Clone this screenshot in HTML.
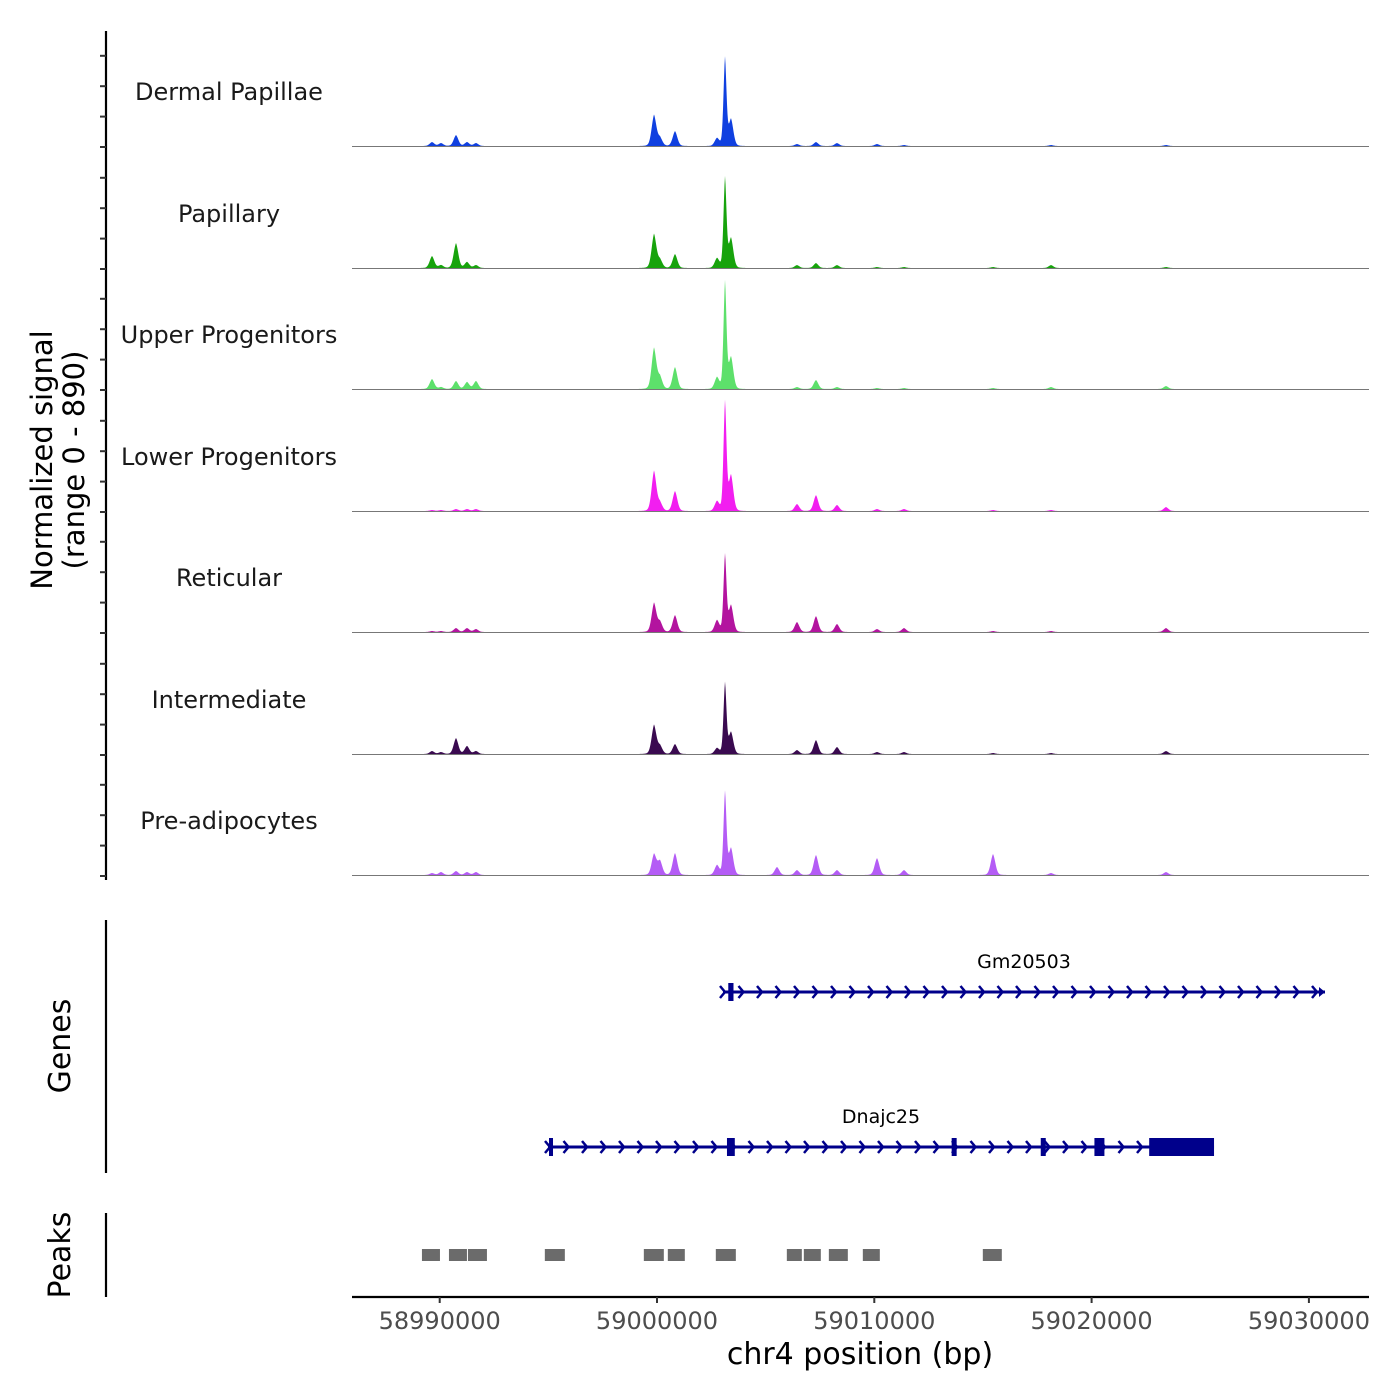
<!DOCTYPE html>
<html><head><meta charset="utf-8"><style>
body{margin:0;background:#fff}
svg{display:block;font-family:"DejaVu Sans","Liberation Sans",sans-serif}
</style></head><body>
<svg id="c" width="1400" height="1400" viewBox="0 0 1400 1400"></svg>
<script>
const trackNames=["Dermal Papillae","Papillary","Upper Progenitors","Lower Progenitors","Reticular","Intermediate","Pre-adipocytes"];
const trackColors=["#1040e0","#17a30c","#5de06b","#f21ef0","#b3149f","#3a0a50","#b45cf5"];
const peakPos=[58989646,58990060,58990750,58991256,58991670,58999862,59000138,59000828,59002761,59003129,59003405,59005522,59006442,59007316,59008283,59010124,59011367,59015463,59018132,59023424];
const sigDP=[32,24,89,32,24,251,65,121,65,712,218,0,16,32,24,16,8,0,8,8];
const sigPap=[97,24,202,49,24,275,65,113,81,728,243,0,24,40,24,8,8,8,24,8];
const sigUp=[81,16,65,57,65,331,97,178,97,866,259,0,16,73,16,8,8,8,16,24];
const sigLow=[8,8,16,16,16,324,65,162,81,882,291,0,57,129,49,16,16,8,8,32];
const sigRet=[8,8,32,32,24,235,81,137,97,623,218,0,81,129,65,24,32,8,8,32];
const sigInt=[24,16,129,65,24,235,65,81,49,574,178,0,32,113,57,16,16,8,8,24];
const sigPre=[16,24,32,24,24,170,113,178,81,671,218,65,40,162,40,137,40,170,16,24];
const signals=[sigDP,sigPap,sigUp,sigLow,sigRet,sigInt,sigPre];
const xTicks=[58990000,59000000,59010000,59020000,59030000];
const genes=[
 {name:"Gm20503",start:59003037,end:59030741,y:992,exons:[[59003280,59003520]]},
 {name:"Dnajc25",start:58994984,end:59025634,y:1147,exons:[[58995030,58995120],[59003220,59003580],[59013560,59013790],[59017660,59017890],[59020130,59020590],[59022650,59025634]]}
];
const peakRegions=[[58989183,58990012],[58990426,58991254],[58991300,58992174],[58994838,58995759],[58999394,59000314],[59000498,59001280],[59002707,59003628],[59005975,59006665],[59006757,59007539],[59007908,59008782],[59009472,59010254],[59014994,59015868]];

const svg=document.getElementById('c');const NS='http://www.w3.org/2000/svg';
function mk(t,a,p){const e=document.createElementNS(NS,t);for(const k in a)e.setAttribute(k,a[k]);(p||svg).appendChild(e);return e;}
const X0=58990000,PX0=439.7,PXS=217.3/10000;
const xs=bp=>PX0+(bp-X0)*PXS;
const baselines=[146,268,389,511,632,754,875];
const ys=v=>v/890*110;

let e=mk('line',{x1:106,y1:31,x2:106,y2:880,stroke:'#000','stroke-width':2.2});

baselines.forEach(b=>{for(let k=0;k<4;k++){const t=mk('line',{x1:100,x2:106,y1:b-k*30.4+1,y2:b-k*30.4+1,stroke:'#333','stroke-width':2});
}});
e=mk('text',{x:0,y:0,'font-size':29,'text-anchor':'middle',transform:'translate(52,460) rotate(-90)'});

e.innerHTML='<tspan x="0" dy="0">Normalized signal</tspan><tspan x="0" dy="32">(range 0 - 890)</tspan>';

trackNames.forEach((nm,i)=>{
 const b=baselines[i];const g=mk('g',{});
 
 const lbl=mk('text',{x:229,y:b-46,'font-size':24,'text-anchor':'middle',fill:'#1a1a1a'},g);lbl.textContent=nm;
 
 let d='M352,'+b;
 for(let px=352;px<=1369;px+=0.5){
  let v=0;const bp=X0+(px-PX0)/PXS;
  peakPos.forEach((p,j)=>{const s=(j===9?70:110);const dd=(bp-p)/s;v+=signals[i][j]*(0.75*Math.exp(-dd*dd/2)+0.25*Math.exp(-Math.abs(dd)*0.8));});
  d+=' L'+px.toFixed(1)+','+(b-ys(v)).toFixed(2);
 }
 d+=' L1369,'+b+' Z';
 const a=mk('path',{d:d,fill:trackColors[i]},g);
 
 const bl=mk('line',{x1:352,x2:1369,y1:b+0.5,y2:b+0.5,stroke:'#777','stroke-width':1},g);
 
});

e=mk('line',{x1:106,y1:920,x2:106,y2:1173,stroke:'#000','stroke-width':2.2});

e=mk('text',{x:0,y:0,'font-size':30,'text-anchor':'middle',transform:'translate(70,1046) rotate(-90)'});e.textContent='Genes';

genes.forEach(gn=>{
 const g=mk('g',{});
 const x1=xs(gn.start),x2=xs(gn.end),y=gn.y;
 mk('line',{x1:x1,x2:x2,y1:y,y2:y,stroke:'#00008b','stroke-width':3},g);
 for(let x=x1;x<x2-4;x+=18.5){mk('path',{d:`M${x-3},${y-6} L${x+2},${y} L${x-3},${y+6}`,fill:'none',stroke:'#00008b','stroke-width':2.5},g);}
 mk('path',{d:`M${x2-6},${y-5} L${x2},${y} L${x2-6},${y+5}Z`,fill:'#00008b'},g);
 gn.exons.forEach(ex=>{const r=mk('rect',{x:xs(ex[0]),y:y-9,width:Math.max(4,xs(ex[1])-xs(ex[0])),height:18,fill:'#00008b'},g);
  });
 const t=mk('text',{x:(x1+x2)/2,y:y-24,'font-size':19,'text-anchor':'middle'},g);t.textContent=gn.name;
 
});

e=mk('line',{x1:106,y1:1213,x2:106,y2:1297,stroke:'#000','stroke-width':2.2});

e=mk('text',{x:0,y:0,'font-size':30,'text-anchor':'middle',transform:'translate(70,1255) rotate(-90)'});e.textContent='Peaks';

peakRegions.forEach(p=>{const r=mk('rect',{x:xs(p[0]),y:1249,width:xs(p[1])-xs(p[0]),height:12,fill:'#6b6b6b'});
 });

e=mk('line',{x1:352,x2:1369,y1:1297,y2:1297,stroke:'#000','stroke-width':2.2});

xTicks.forEach(t=>{const x=xs(t);
 const l=mk('line',{x1:x,x2:x,y1:1297,y2:1303,stroke:'#333','stroke-width':2});
 
 const tx=mk('text',{x:x,y:1329,'font-size':24,'text-anchor':'middle',fill:'#4d4d4d'});tx.textContent=String(t);
 });
e=mk('text',{x:860,y:1364,'font-size':30,'text-anchor':'middle'});e.textContent='chr4 position (bp)';

</script>
</body></html>
